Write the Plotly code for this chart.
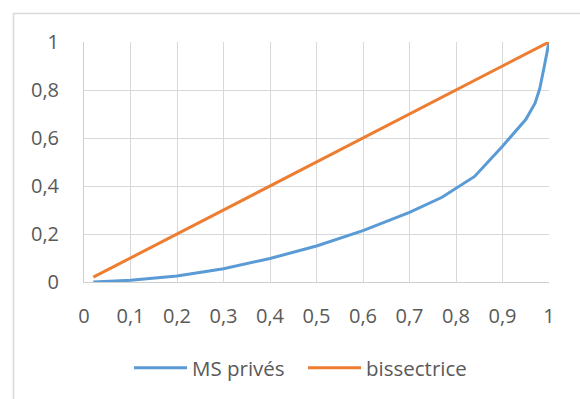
import plotly.graph_objects as go

# Data
ms_x = [0.02, 0.1, 0.2, 0.3, 0.4, 0.5, 0.6, 0.7, 0.77, 0.8, 0.84, 0.9, 0.95, 0.97, 0.98, 0.99, 1.0]
ms_y = [0.0, 0.007, 0.025, 0.055, 0.098, 0.15, 0.214, 0.29, 0.353, 0.39, 0.44, 0.566, 0.677, 0.745, 0.805, 0.9, 1.0]
bis_x = [0.02, 1.0]
bis_y = [0.02, 1.0]

x_ticks = [0, 0.1, 0.2, 0.3, 0.4, 0.5, 0.6, 0.7, 0.8, 0.9, 1]
x_labels = ["0", "0,1", "0,2", "0,3", "0,4", "0,5", "0,6", "0,7", "0,8", "0,9", "1"]
y_ticks = [0, 0.2, 0.4, 0.6, 0.8, 1]
y_labels = ["0", "0,2", "0,4", "0,6", "0,8", "1"]

FONT = "Open Sans"
TXT = "#595959"
GRID = "#d9d9d9"

fig = go.Figure()
fig.add_trace(go.Scatter(x=ms_x, y=ms_y, mode="lines", name="MS privés",
                         line=dict(color="#5b9bd5", width=3)))
fig.add_trace(go.Scatter(x=bis_x, y=bis_y, mode="lines", name="bissectrice",
                         line=dict(color="#ed7d31", width=3)))

W, H = 580, 399
L, R, T, B = 84, 31, 42, 116
pw = W - L - R
ph = H - T - B

fig.update_layout(
    width=W, height=H,
    margin=dict(l=L, r=R, t=T, b=B),
    paper_bgcolor="white", plot_bgcolor="white",
    font=dict(family=FONT, size=20, color=TXT),
    showlegend=True,
    legend=dict(orientation="h", x=(303 - L) / pw, xanchor="center",
                y=-(368 - (T + ph)) / ph, yanchor="middle",
                font=dict(family=FONT, size=20.5, color=TXT),
                itemwidth=53, entrywidth=106, entrywidthmode="pixels",
                tracegroupgap=0, bgcolor="rgba(0,0,0,0)"),
    xaxis=dict(range=[0, 1], tickvals=x_ticks, ticktext=x_labels,
               showgrid=True, gridcolor=GRID, gridwidth=1,
               zeroline=False, showline=True, linecolor="#cfcfcf", linewidth=1,
               ticks="", ticklabelstandoff=16, fixedrange=True,
               tickfont=dict(size=20)),
    yaxis=dict(range=[0, 1], tickvals=y_ticks, ticktext=y_labels,
               showgrid=True, gridcolor=GRID, gridwidth=1,
               zeroline=False, showline=True, linecolor="#cfcfcf", linewidth=1,
               ticks="outside", ticklen=20, tickcolor="rgba(0,0,0,0)",
               fixedrange=True, tickfont=dict(size=20)),
    shapes=[dict(type="rect", xref="paper", yref="paper",
                 x0=(13.5 - L) / pw, x1=1.3,
                 y0=-1.0, y1=(T + ph - 13.5) / ph,
                 line=dict(color=GRID, width=1.5), fillcolor="rgba(0,0,0,0)",
                 layer="below")],
)

fig.write_html("out.html", config={"displayModeBar": False})
